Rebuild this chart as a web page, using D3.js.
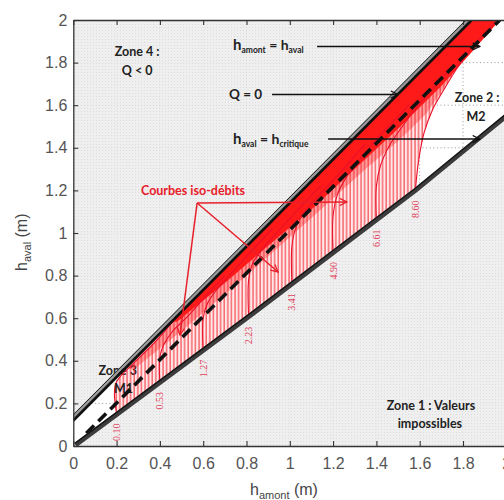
<!DOCTYPE html>
<html>
<head>
<meta charset="utf-8">
<script src="https://cdn.jsdelivr.net/npm/d3@7"></script>
<style>
  body { margin: 0; background: #fff; }
  svg { display: block; }
</style>
</head>
<body>
<script>
// tick values (m)
var xTicks = [0, 0.2, 0.4, 0.6, 0.8, 1, 1.2, 1.4, 1.6, 1.8, 2];
var yTicks = [0, 0.2, 0.4, 0.6, 0.8, 1, 1.2, 1.4, 1.6, 1.8, 2];

// boundary lines [h_amont, h_aval]
var lineQ0 = [[0, 0.12], [1.84, 2.0]];
var lineEq = [[0.06, 0.06], [1.97, 2.0]];
var lineCrit = [[0.01, 0.005], [0.82, 0.615], [1.28, 0.97], [1.58, 1.20], [1.88, 1.45], [2.0, 1.55]];

// iso-debit curves (Q in m3/s) with their labels
var qLabels = ["0.10", "0.53", "1.27", "2.23", "3.41", "4.90", "6.61", "8.60"];
var qCurves = [
  [[0.20, 0.152], [0.19, 0.24], [0.195, 0.29], [0.22, 0.33], [0.26, 0.37], [0.31, 0.42], [0.38, 0.49], [0.46, 0.585]],
  [[0.40, 0.30], [0.40, 0.42], [0.42, 0.48], [0.46, 0.54], [0.52, 0.60], [0.60, 0.69], [0.70, 0.80]],
  [[0.60, 0.452], [0.60, 0.60], [0.62, 0.67], [0.66, 0.73], [0.72, 0.80], [0.80, 0.89], [0.92, 1.02]],
  [[0.81, 0.607], [0.81, 0.78], [0.83, 0.86], [0.87, 0.92], [0.93, 0.99], [1.02, 1.09], [1.14, 1.22]],
  [[1.01, 0.764], [1.01, 0.94], [1.03, 1.03], [1.07, 1.10], [1.13, 1.17], [1.22, 1.27], [1.35, 1.42]],
  [[1.20, 0.911], [1.20, 1.08], [1.22, 1.18], [1.26, 1.26], [1.32, 1.34], [1.41, 1.45], [1.55, 1.60]],
  [[1.40, 1.063], [1.40, 1.22], [1.42, 1.32], [1.46, 1.41], [1.52, 1.50], [1.61, 1.62], [1.75, 1.78]],
  [[1.58, 1.20], [1.595, 1.34], [1.62, 1.47], [1.66, 1.58], [1.71, 1.67], [1.77, 1.77], [1.84, 1.87], [1.92, 1.96], [1.96, 2.0]]
];

// red areas where the curves pile up
var denseEdge = [[0.28, 0.36], [0.50, 0.54], [0.80, 0.80], [1.10, 1.07], [1.35, 1.30], [1.52, 1.45], [1.63, 1.56], [1.71, 1.68], [1.82, 1.86], [1.96, 2.0]];
var solidEdge = [[0.48, 0.585], [0.70, 0.765], [0.90, 0.94], [1.10, 1.11], [1.30, 1.30], [1.50, 1.49], [1.70, 1.69], [1.85, 1.86], [1.97, 2.0]];

var width = 504, height = 500;

var x = d3.scaleLinear().domain([0, 2]).range([73.3, 506.3]);
var y = d3.scaleLinear().domain([0, 2]).range([446, 20]);

var svg = d3.select("body").append("svg")
  .attr("width", width)
  .attr("height", height)
  .style("font-family", "'Liberation Sans', Arial, sans-serif");

var defs = svg.append("defs");

defs.append("clipPath").attr("id", "plot")
  .append("rect")
    .attr("x", x(0)).attr("y", y(2))
    .attr("width", x(2) - x(0)).attr("height", y(0) - y(2));

// vertical red hatching for the iso-debit zone
var hatch = defs.append("pattern")
  .attr("id", "hatch")
  .attr("patternUnits", "userSpaceOnUse")
  .attr("width", 3.6).attr("height", 10);
hatch.append("line")
  .attr("x1", 1).attr("x2", 1).attr("y1", 0).attr("y2", 10)
  .attr("stroke", "#f22a36").attr("stroke-width", 1);

// stipple for the grey zones
var dots = defs.append("pattern")
  .attr("id", "dots")
  .attr("patternUnits", "userSpaceOnUse")
  .attr("width", 3).attr("height", 3);
dots.append("rect").attr("width", 3).attr("height", 3).attr("fill", "#ededed");
dots.append("rect").attr("width", 1).attr("height", 1).attr("fill", "#d8d8d8");

function arrowHead(id, color) {
  defs.append("marker")
    .attr("id", id)
    .attr("viewBox", "0 0 10 10")
    .attr("refX", 9).attr("refY", 5)
    .attr("markerWidth", 6).attr("markerHeight", 6)
    .attr("orient", "auto")
  .append("path")
    .attr("d", "M1,1 L9,5 L1,9")
    .attr("fill", "none")
    .attr("stroke", color)
    .attr("stroke-width", 1.4);
}
arrowHead("arrBlack", "#111");
arrowHead("arrRed", "#e8202a");

var line = d3.line().x(function(d) { return x(d[0]); }).y(function(d) { return y(d[1]); });
var smooth = d3.line().x(function(d) { return x(d[0]); }).y(function(d) { return y(d[1]); }).curve(d3.curveCatmullRom);

var plot = svg.append("g").attr("clip-path", "url(#plot)");

// grid
plot.append("g").selectAll("line")
  .data(xTicks.slice(1, -1))
  .enter().append("line")
    .attr("x1", function(d) { return x(d); }).attr("x2", function(d) { return x(d); })
    .attr("y1", y(0)).attr("y2", y(2))
    .attr("stroke", "#8a8a8a").attr("stroke-width", 0.9)
    .attr("stroke-dasharray", "1,2.6");
plot.append("g").selectAll("line")
  .data(yTicks.slice(1, -1))
  .enter().append("line")
    .attr("y1", function(d) { return y(d); }).attr("y2", function(d) { return y(d); })
    .attr("x1", x(0)).attr("x2", x(2))
    .attr("stroke", "#8a8a8a").attr("stroke-width", 0.9)
    .attr("stroke-dasharray", "1,2.6");

// grey zones (4 above, 1 below)
plot.append("path")
  .datum(lineQ0.concat([[0, 2]]))
  .attr("d", function(d) { return line(d) + "Z"; })
  .attr("fill", "url(#dots)").attr("opacity", 0.9);
plot.append("path")
  .datum(lineCrit.concat([[2, 0], [0, 0]]))
  .attr("d", function(d) { return line(d) + "Z"; })
  .attr("fill", "url(#dots)").attr("opacity", 0.9);

// hatched zone of the iso-debit curves
var first = qCurves[0], last = qCurves[qCurves.length - 1];
var lowEdge = lineCrit.filter(function(d) { return d[0] > first[0][0] && d[0] < last[0][0]; }).reverse();
var hatchZone = first
  .concat([[lineQ0[1][0], lineQ0[1][1]]])
  .concat(last.slice().reverse())
  .concat(lowEdge);
plot.append("path")
  .datum(hatchZone)
  .attr("d", function(d) { return line(d) + "Z"; })
  .attr("fill", "#ffe8e8");

// zone 3 text sits under the red curves
plot.append("text")
  .attr("x", x(0.205)).attr("y", y(0.333))
  .attr("text-anchor", "middle")
  .style("font-family", "Lato, 'Open Sans', sans-serif")
  .style("font-weight", "bold").style("font-size", "12.5px")
  .attr("fill", "#222")
  .text("Zone 3");

plot.append("path")
  .datum(hatchZone)
  .attr("d", function(d) { return line(d) + "Z"; })
  .attr("fill", "url(#hatch)");

// denser red where curves bend towards Q = 0
plot.append("path")
  .datum(denseEdge.concat([[lineQ0[1][0], lineQ0[1][1]], [0.24, 0.365]]))
  .attr("d", function(d) { return line(d) + "Z"; })
  .attr("fill", "#ff2a2a").attr("opacity", 0.4);

plot.append("path")
  .datum(solidEdge.concat([[lineQ0[1][0], lineQ0[1][1]], [0.45, 0.58]]))
  .attr("d", function(d) { return line(d) + "Z"; })
  .attr("fill", "#ff1a1a");

// labelled iso-debit curves
plot.append("g").selectAll("path")
  .data(qCurves)
  .enter().append("path")
    .attr("d", smooth)
    .attr("fill", "none")
    .attr("stroke", "#e8102a")
    .attr("stroke-width", 1.1);

plot.append("g").selectAll("text")
  .data(qCurves)
  .enter().append("text")
    .attr("transform", function(d) { return "translate(" + (x(d[0][0]) + 3.5) + "," + (y(d[0][1]) + 10) + ") rotate(-90)"; })
    .attr("text-anchor", "end")
    .style("font-family", "'Liberation Serif', 'DejaVu Serif', serif")
    .style("font-size", "10px")
    .attr("fill", "#e2405a")
    .text(function(d, i) { return qLabels[i]; });

// M1 label on top
plot.append("text")
  .attr("x", x(0.232)).attr("y", y(0.249))
  .attr("text-anchor", "middle")
  .style("font-family", "Lato, 'Open Sans', sans-serif")
  .style("font-weight", "bold").style("font-size", "12.5px")
  .attr("fill", "#222")
  .text("M1");

// boundary lines
plot.append("path").datum(lineEq)
  .attr("d", line).attr("fill", "none")
  .attr("stroke", "#111").attr("stroke-width", 3.6)
  .attr("stroke-dasharray", "11,6");

plot.append("path").datum(lineQ0)
  .attr("d", line).attr("fill", "none")
  .attr("transform", "translate(-2.6,-1.6)")
  .attr("stroke", "#9a9a9a").attr("stroke-width", 3);
plot.append("path").datum(lineQ0)
  .attr("d", line).attr("fill", "none")
  .attr("stroke", "#111").attr("stroke-width", 2.8);
plot.append("path").datum(lineQ0)
  .attr("d", line).attr("fill", "none")
  .attr("transform", "translate(-3.4,-2.2)")
  .attr("stroke", "#222").attr("stroke-width", 1);

plot.append("path").datum(lineCrit)
  .attr("d", line).attr("fill", "none")
  .attr("stroke", "#3c3c3c").attr("stroke-width", 5);
plot.append("path").datum(lineCrit)
  .attr("d", line).attr("fill", "none")
  .attr("stroke", "#111").attr("stroke-width", 1.2)
  .attr("transform", "translate(0,-2)");

// axes
function styleAxis(g) {
  g.selectAll("path.domain").attr("stroke", "#333").attr("stroke-width", 1.3);
  g.selectAll(".tick line").attr("stroke", "#333").attr("stroke-width", 1.1);
  g.selectAll(".tick text").attr("fill", "#555").style("font-size", "16px")
    .style("font-family", "'Liberation Sans', Arial, sans-serif");
}

svg.append("g")
  .attr("transform", "translate(0," + y(0) + ")")
  .call(d3.axisBottom(x).tickValues(xTicks).tickSize(-5).tickSizeOuter(0).tickPadding(12).tickFormat(d3.format("~g")))
  .call(styleAxis);

svg.append("g")
  .attr("transform", "translate(" + x(0) + ",0)")
  .call(d3.axisLeft(y).tickValues(yTicks).tickSize(-5).tickSizeOuter(0).tickPadding(6).tickFormat(d3.format("~g")))
  .call(styleAxis);

svg.append("g")
  .attr("transform", "translate(0," + y(2) + ")")
  .call(d3.axisTop(x).tickValues(xTicks).tickSize(-5).tickSizeOuter(0).tickFormat(""))
  .call(styleAxis);

// axis titles
var xt = svg.append("text")
  .attr("x", 250).attr("y", 495)
  .attr("fill", "#444").style("font-size", "16px");
xt.append("tspan").text("h");
xt.append("tspan").attr("dy", 4).style("font-size", "11px").text("amont");
xt.append("tspan").attr("dy", -4).text(" (m)");

var yt = svg.append("text")
  .attr("transform", "translate(27,271) rotate(-90)")
  .attr("fill", "#444").style("font-size", "16px");
yt.append("tspan").text("h");
yt.append("tspan").attr("dy", 4).style("font-size", "11px").text("aval");
yt.append("tspan").attr("dy", -4).text(" (m)");

// annotations
var notes = svg.append("g")
  .style("font-family", "Lato, 'Open Sans', sans-serif")
  .style("font-weight", "bold")
  .style("font-size", "12.5px")
  .attr("fill", "#222");

notes.append("text").attr("x", x(0.295)).attr("y", y(1.831)).attr("text-anchor", "middle").text("Zone 4 :");
notes.append("text").attr("x", x(0.295)).attr("y", y(1.742)).attr("text-anchor", "middle").text("Q < 0");
notes.append("text").attr("x", x(1.865)).attr("y", y(1.615)).attr("text-anchor", "middle").text("Zone 2 :");
notes.append("text").attr("x", x(1.86)).attr("y", y(1.526)).attr("text-anchor", "middle").text("M2");
notes.append("text").attr("x", x(1.652)).attr("y", y(0.169)).attr("text-anchor", "middle").text("Zone 1 : Valeurs");
notes.append("text").attr("x", x(1.647)).attr("y", y(0.085)).attr("text-anchor", "middle").text("impossibles");

var t1 = notes.append("text").attr("x", x(0.738)).attr("y", y(1.857));
t1.append("tspan").style("font-size", "15px").text("h");
t1.append("tspan").attr("dy", 3).style("font-size", "8.5px").text("amont");
t1.append("tspan").attr("dy", -3).style("font-size", "14px").text(" = h");
t1.append("tspan").attr("dy", 3).style("font-size", "8.5px").text("aval");

notes.append("text").attr("x", x(0.719)).attr("y", y(1.631)).style("font-size", "13.5px").text("Q = 0");

var t2 = notes.append("text").attr("x", x(0.738)).attr("y", y(1.418));
t2.append("tspan").style("font-size", "15px").text("h");
t2.append("tspan").attr("dy", 3).style("font-size", "8.5px").text("aval");
t2.append("tspan").attr("dy", -3).style("font-size", "14px").text(" = h");
t2.append("tspan").attr("dy", 3).style("font-size", "8.5px").text("critique");

function pointer(g, a, b, color, marker) {
  g.append("line")
    .attr("x1", x(a[0])).attr("y1", y(a[1]))
    .attr("x2", x(b[0])).attr("y2", y(b[1]))
    .attr("stroke", color).attr("stroke-width", 1.5)
    .attr("marker-end", "url(#" + marker + ")");
}
var arrows = svg.append("g");
pointer(arrows, [1.126, 1.876], [1.878, 1.876], "#111", "arrBlack");
pointer(arrows, [0.918, 1.650], [1.50, 1.650], "#111", "arrBlack");
pointer(arrows, [1.177, 1.441], [1.878, 1.441], "#111", "arrBlack");

svg.append("text")
  .attr("x", x(0.553)).attr("y", y(1.178))
  .attr("text-anchor", "middle")
  .style("font-family", "Lato, 'Open Sans', sans-serif")
  .style("font-weight", "bold").style("font-size", "12.5px")
  .attr("fill", "#e8202a")
  .text("Courbes iso-débits");

pointer(arrows, [0.572, 1.141], [0.493, 0.521], "#e8202a", "arrRed");
pointer(arrows, [0.572, 1.141], [0.946, 0.817], "#e8202a", "arrRed");
pointer(arrows, [0.572, 1.141], [1.264, 1.146], "#e8202a", "arrRed");
</script>
</body>
</html>
